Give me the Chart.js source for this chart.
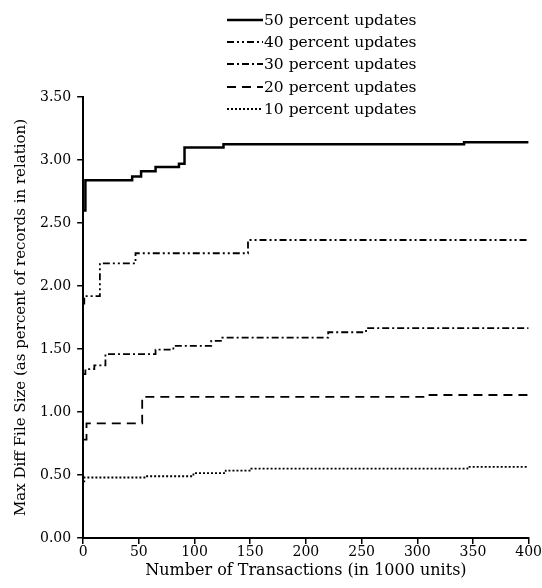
<!DOCTYPE html>
<html>
<head>
<meta charset="utf-8">
<script src="https://cdn.jsdelivr.net/npm/chart.js@4"></script>
<style>
    body { margin: 0; background: #fff; }
    #wrap { position: relative; width: 542px; height: 588px; }
    #legend { position: absolute; left: 0; top: 0; font: 15.5px "DejaVu Serif", serif; color: #000; }
    .row { position: absolute; left: 227px; height: 22px; display: flex; align-items: center; white-space: nowrap; }
    .row svg { width: 37px; height: 22px; }
</style>
</head>
<body>
<div id="wrap">
    <canvas id="chart" width="542" height="588"></canvas>
    <div id="legend"></div>
</div>
<script>
const seriesNames = ['50 percent updates', '40 percent updates', '30 percent updates', '20 percent updates', '10 percent updates'];

// transactions (1000s) where the value steps, and the value from there on
const txns50 = [0, 2, 44, 52, 65, 86, 91, 126, 342, 400];
const diff50 = [2.60, 2.84, 2.87, 2.91, 2.945, 2.97, 3.10, 3.125, 3.14, 3.14];

const txns40 = [0, 1, 15, 47, 148, 400];
const diff40 = [1.86, 1.92, 2.18, 2.26, 2.365, 2.365];

const txns30 = [0, 2, 10, 20, 65, 81, 115, 125, 220, 254, 400];
const diff30 = [1.30, 1.34, 1.37, 1.46, 1.495, 1.525, 1.565, 1.59, 1.633, 1.665, 1.665];

const txns20 = [0, 3, 53, 311, 400];
const diff20 = [0.78, 0.91, 1.12, 1.135, 1.135];

const txns10 = [0, 1, 56, 99, 128, 151, 345, 400];
const diff10 = [0.45, 0.48, 0.49, 0.515, 0.535, 0.55, 0.565, 0.565];

const xTicks = [0, 50, 100, 150, 200, 250, 300, 350, 400];
const yTicks = [0, 0.5, 1.0, 1.5, 2.0, 2.5, 3.0, 3.5];

const styles = [
    { width: 2.5, dash: [] },
    { width: 1.8, dash: [7, 3, 2, 3, 2, 3] },
    { width: 1.8, dash: [7, 3, 2, 3] },
    { width: 1.8, dash: [9, 6] },
    { width: 1.8, dash: [2, 2] }
];

const serif = '"DejaVu Serif", serif';
const pairs = (xs, ys) => xs.map((x, i) => ({ x: x, y: ys[i] }));
const allData = [pairs(txns50, diff50), pairs(txns40, diff40), pairs(txns30, diff30), pairs(txns20, diff20), pairs(txns10, diff10)];

const ctx = document.getElementById('chart').getContext('2d');
new Chart(ctx, {
    type: 'line',
    data: {
        datasets: seriesNames.map((name, i) => ({
            label: name,
            data: allData[i],
            borderColor: '#000',
            borderWidth: styles[i].width,
            borderDash: styles[i].dash,
            stepped: 'before',
            pointRadius: 0,
            fill: false
        }))
    },
    options: {
        responsive: false,
        animation: false,
        layout: { autoPadding: false, padding: { top: 97, left: 12, right: 10, bottom: 8 } },
        plugins: {
            legend: { display: false },
            tooltip: { enabled: false }
        },
        scales: {
            x: {
                type: 'linear',
                min: 0,
                max: 400,
                afterBuildTicks: axis => { axis.ticks = xTicks.map(v => ({ value: v })); },
                ticks: { color: '#000', font: { family: serif, size: 14 }, padding: 0, maxRotation: 0 },
                grid: { drawOnChartArea: false, color: '#000', lineWidth: 1.5, tickLength: 6 },
                border: { color: '#000', width: 2 },
                title: { display: true, text: 'Number of Transactions (in 1000 units)', color: '#000', font: { family: serif, size: 16 }, padding: { top: 0, bottom: 0 } }
            },
            y: {
                min: 0,
                max: 3.5,
                afterBuildTicks: axis => { axis.ticks = yTicks.map(v => ({ value: v })); },
                ticks: { color: '#000', font: { family: serif, size: 14 }, padding: 6, callback: v => v.toFixed(2) },
                grid: { drawOnChartArea: false, color: '#000', lineWidth: 1.5, tickLength: 6 },
                border: { color: '#000', width: 2 },
                title: { display: true, text: 'Max Diff File Size (as percent of records in relation)', color: '#000', font: { family: serif, size: 15 }, padding: { top: 0, bottom: 4 } }
            }
        }
    }
});

// legend stacked in the top right, as in the original figure
const legendTops = [9, 31, 53, 76, 98];
const legend = document.getElementById('legend');
seriesNames.forEach((name, i) => {
    const row = document.createElement('div');
    row.className = 'row';
    row.style.top = legendTops[i] + 'px';
    row.innerHTML = '<svg><line x1="0" y1="11" x2="36" y2="11" stroke="#000" stroke-width="' + styles[i].width +
        '" stroke-dasharray="' + (styles[i].dash.join(' ') || 'none') + '"/></svg><span>' + name + '</span>';
    legend.appendChild(row);
});
</script>
</body>
</html>
